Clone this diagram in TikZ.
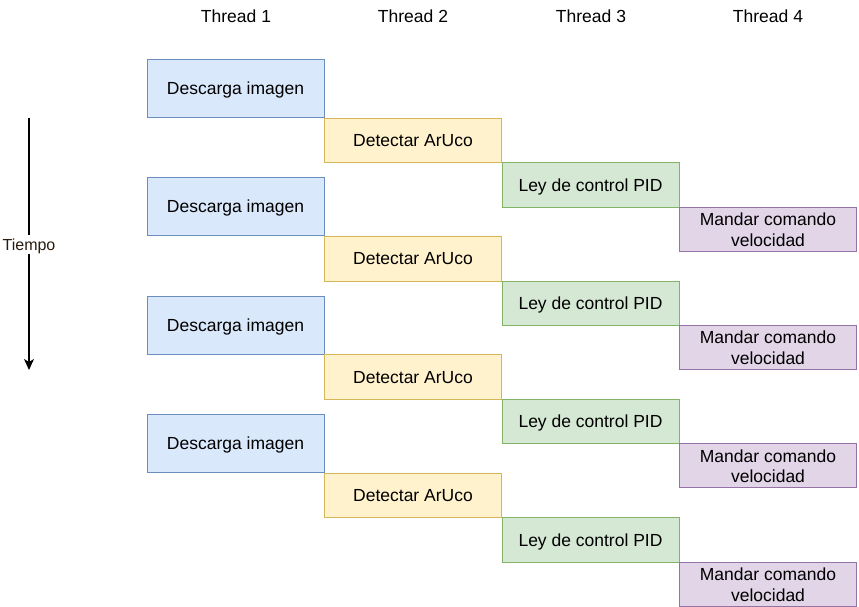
\documentclass[tikz,border=0pt]{standalone}
\usepackage{fontspec}
\setmainfont{Liberation Sans}
\usetikzlibrary{arrows.meta}
\definecolor{bfill}{HTML}{DAE8FC}\definecolor{bdraw}{HTML}{6C8EBF}
\definecolor{yfill}{HTML}{FFF2CC}\definecolor{ydraw}{HTML}{D6B656}
\definecolor{gfill}{HTML}{D5E8D4}\definecolor{gdraw}{HTML}{82B366}
\definecolor{pfill}{HTML}{E1D5E7}\definecolor{pdraw}{HTML}{9673A6}
\definecolor{tcol}{HTML}{2A1C0E}
\tikzset{
  box/.style={draw, line width=1pt, minimum width=177pt, inner sep=0pt, align=center,
    font=\fontsize{17.5}{20.5}\selectfont},
  one/.style={text height=15.8pt, text depth=3.7pt},
  t1/.style={box, one, fill=bfill, draw=bdraw, minimum height=58pt},
  t2/.style={box, one, fill=yfill, draw=ydraw, minimum height=44.5pt},
  t3/.style={box, one, fill=gfill, draw=gdraw, minimum height=44.5pt},
  t4/.style={box, fill=pfill, draw=pdraw, minimum height=44pt},
  hdr/.style={font=\fontsize{17.5}{20.5}\selectfont, inner sep=0pt, one},
}
\begin{document}
\begin{tikzpicture}[x=1pt,y=-1pt]
\useasboundingbox (0,0) rectangle (859,607);
\node[hdr] (h1) at (236,16) {Thread 1};
\node[hdr] (h2) at (413,16) {Thread 2};
\node[hdr] (h3) at (591,16) {Thread 3};
\node[hdr] (h4) at (768,16) {Thread 4};
\foreach \i/\y in {1/0,2/118.3,3/236.6,4/355}{
  \node[t1] (a\i) at (235.5,88.5+\y) {Descarga imagen};
  \node[t2] (b\i) at (413,140.5+\y) {Detectar ArUco};
  \node[t3] (c\i) at (590.5,185+\y) {Ley de control PID};
  \node[t4] (d\i) at (768,229+\y) {\rule{0pt}{14pt}Mandar comando\\velocidad};
}
\coordinate (s) at (29,118);
\coordinate (e) at (29,370);
\draw[line width=1.2pt, -{Stealth[length=11pt,width=10pt,inset=3pt]}] (s) -- (e);
\node[fill=white, inner sep=1pt, text=tcol, text height=14.5pt, text depth=3.4pt, font=\fontsize{16}{19}\selectfont] (tl) at (29,244.5) {Tiempo};
\end{tikzpicture}
\end{document}
